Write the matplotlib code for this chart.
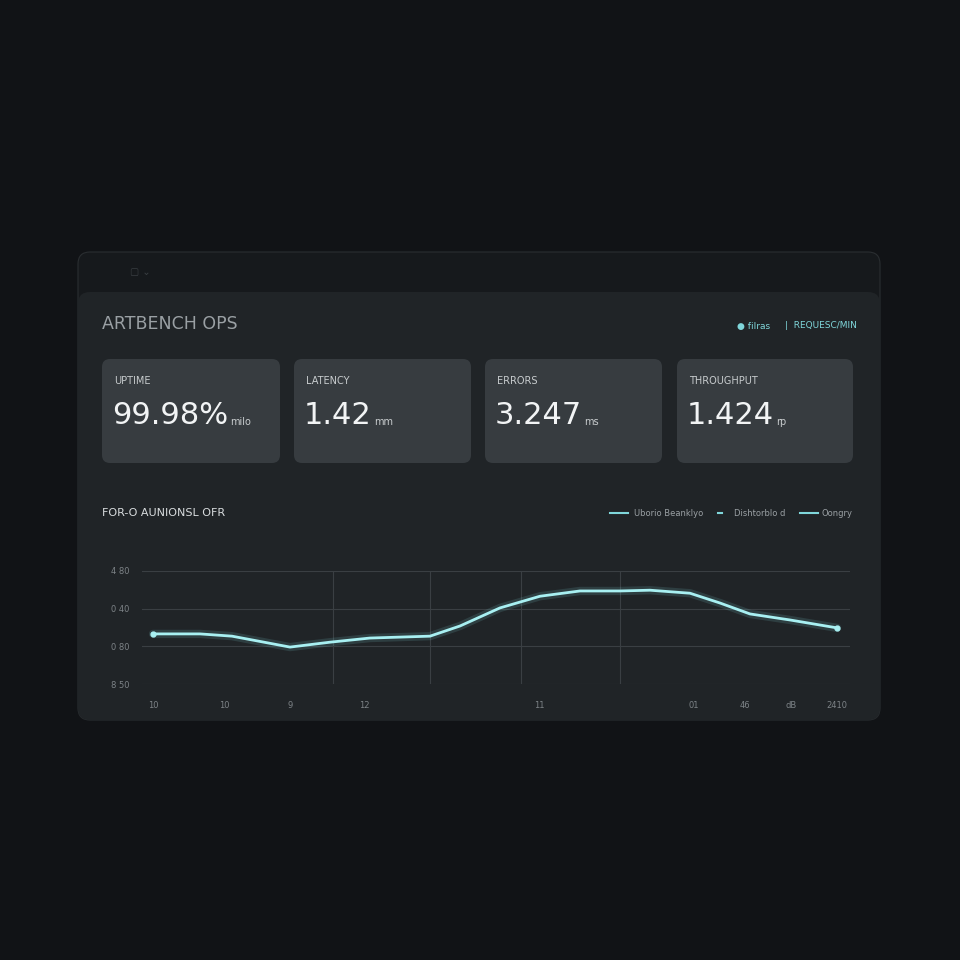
import matplotlib
matplotlib.use("Agg")
import matplotlib.pyplot as plt
from matplotlib.patches import FancyBboxPatch

kpi_labels = ["UPTIME", "LATENCY", "ERRORS", "THROUGHPUT"]
kpi_values = ["99.98%", "1.42", "3.247", "1.424"]
kpi_units = ["milo", "mm", "ms", "rp"]
line_x = [11, 58, 90, 148, 188, 228, 288, 318, 358, 398, 438, 478, 508, 548, 578, 608, 648, 695]
line_y = [1.33, 1.33, 1.27, 0.98, 1.11, 1.22, 1.27, 1.54, 2.02, 2.33, 2.47, 2.47, 2.49, 2.41, 2.15, 1.86, 1.70, 1.49]
ytick_vals = [0, 1, 2, 3]
ytick_labels = ["8 50", "0 80", "0 40", "4 80"]
xtick_vals = [11, 82, 148, 222, 397, 552, 603, 649, 695]
xtick_labels = ["10", "10", "9", "12", "11", "01", "46", "dB", "2410"]
vgrid_x = [191, 288, 379, 478]
legend_labels = ["Uborio Beanklyo", "Dishtorblo d", "Oongry"]

fig = plt.figure(figsize=(9.6, 9.6), dpi=100)
fig.patch.set_facecolor("#111316")
bg = fig.add_axes([0, 0, 1, 1])
bg.set_xlim(0, 960); bg.set_ylim(960, 0); bg.axis("off")

def box(x0, y0, x1, y1, fc, r=12, z=1, ec="none"):
    bg.add_patch(FancyBboxPatch((x0 + r, y0 + r), x1 - x0 - 2 * r, y1 - y0 - 2 * r,
                                boxstyle=f"round,pad={r}", fc=fc, ec=ec, lw=0.8, zorder=z))

box(78, 252, 880, 720, "#16191c", z=1, ec="#2a2e31")
box(78, 292, 880, 720, "#202427", z=2)
bg.text(130, 275, "▢ ⌄", color="#3a3f43", fontsize=7, zorder=3)
bg.text(102, 324, "ARTBENCH OPS", color="#9aa0a4", fontsize=12.5, va="center", zorder=3)
bg.text(737, 326, "● filras", color="#7fd6da", fontsize=6.5, va="center", zorder=3)
bg.text(785, 326, "|  REQUESC/MIN", color="#7fd6da", fontsize=6.5, va="center", zorder=3)

cards_x = [(102, 280), (294, 471), (485, 662), (677, 853)]
for (x0, x1), lab, val, unit in zip(cards_x, kpi_labels, kpi_values, kpi_units):
    box(x0, 359, x1, 463, "#373c40", r=8, z=3)
    bg.text(x0 + 12, 381, lab, color="#c8ccce", fontsize=7, va="center", zorder=4)
    t = bg.text(x0 + 10, 415, val, color="#f2f4f5", fontsize=22, va="center", zorder=4)
    fig.canvas.draw()
    bb = t.get_window_extent()
    bg.text(bb.x1 + 2, 422, unit, color="#c8ccce", fontsize=7, va="center", zorder=4)

bg.text(102, 513, "FOR-O AUNIONSL OFR", color="#d8dcde", fontsize=8, va="center", zorder=3)
lx = [(610, 628), (718, 722), (800, 818)]
ltx = [634, 734, 822]
for (a, b), tx, lab in zip(lx, ltx, legend_labels):
    bg.plot([a, b], [513, 513], color="#7fd6da", lw=1.5, zorder=3)
    bg.text(tx, 513, lab, color="#9aa0a4", fontsize=6, va="center", zorder=3)

ax = fig.add_axes([142 / 960, (960 - 684) / 960, 708 / 960, 113 / 960])
ax.set_facecolor("none")
ax.set_xlim(0, 708); ax.set_ylim(0, 3)
for s in ax.spines.values():
    s.set_visible(False)
for v in ytick_vals:
    ax.axhline(v, color="#3a3f43", lw=0.8, zorder=1)
for v in vgrid_x:
    ax.axvline(v, color="#3a3f43", lw=0.8, zorder=1)
ax.plot(line_x, line_y, color="#7fd6da", lw=6, alpha=0.15, solid_capstyle="round", zorder=2)
ax.plot(line_x, line_y, color="#a8f0f2", lw=2, zorder=3)
ax.plot([line_x[0], line_x[-1]], [line_y[0], line_y[-1]], "o", color="#a8f0f2", ms=3.5, zorder=4)
ax.set_yticks(ytick_vals); ax.set_yticklabels(ytick_labels)
ax.set_xticks(xtick_vals); ax.set_xticklabels(xtick_labels)
ax.tick_params(colors="#7d8387", labelsize=6, length=0, pad=12)
ax.tick_params(axis="y", pad=22)
for t in ax.get_yticklabels():
    t.set_ha("left")
fig.savefig("out.png", dpi=100, facecolor=fig.get_facecolor())
